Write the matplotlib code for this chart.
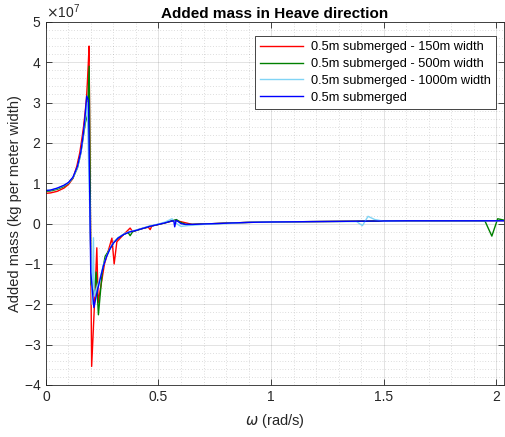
import matplotlib
matplotlib.use("Agg")
import matplotlib.pyplot as plt
from matplotlib.ticker import MultipleLocator, ScalarFormatter

plt.rcParams["font.family"] = ["Liberation Sans", "DejaVu Sans"]
plt.rcParams["mathtext.fontset"] = "dejavusans"

# values in units of 1e7 kg per meter width
w_150 = [0, 0.02, 0.05, 0.08, 0.1, 0.12, 0.137, 0.15, 0.159, 0.167, 0.174, 0.18, 0.184, 0.188, 0.1915,
         0.203, 0.218, 0.226, 0.232, 0.26, 0.293, 0.303, 0.315, 0.34, 0.374, 0.385, 0.42, 0.455, 0.463,
         0.47, 0.5, 0.55, 0.575, 0.59, 0.62, 0.65, 0.7, 0.8, 0.9, 1.0, 1.2, 1.4, 1.6, 1.8, 2.0, 2.04]
a_150 = [0.75, 0.76, 0.80, 0.88, 0.97, 1.12, 1.42, 1.75, 2.08, 2.4, 2.75, 3.1, 3.5, 3.95, 4.4,
         -3.54, -1.7, -0.6, -1.96, -1.0, -0.36, -1.0, -0.45, -0.3, -0.11, -0.2, -0.13, -0.09, -0.15,
         -0.06, -0.02, 0.05, 0.08, 0.06, 0.02, -0.02, -0.01, 0.01, 0.03, 0.04, 0.05, 0.06, 0.07, 0.07, 0.07, 0.07]

w_500 = [0, 0.02, 0.05, 0.08, 0.1, 0.12, 0.14, 0.155, 0.165, 0.175, 0.185, 0.192,
         0.2, 0.214, 0.223, 0.233, 0.25, 0.263, 0.285, 0.30, 0.32, 0.345, 0.365, 0.374, 0.385, 0.43, 0.46,
         0.5, 0.53, 0.555, 0.58, 0.595, 0.62, 0.65, 0.7, 0.8, 0.9, 1.0, 1.2, 1.4, 1.6, 1.8, 1.95, 1.981,
         2.007, 2.04]
a_500 = [0.80, 0.81, 0.85, 0.92, 1.0, 1.13, 1.38, 1.75, 2.12, 2.5, 2.7, 3.9,
         -1.5, -1.76, -1.2, -2.26, -1.2, -0.81, -0.62, -0.48, -0.36, -0.27, -0.22, -0.3, -0.2, -0.12, -0.07,
         -0.02, 0.02, 0.06, 0.1, 0.04, -0.02, -0.02, -0.01, 0.01, 0.03, 0.04, 0.05, 0.06, 0.07, 0.07, 0.07, -0.31,
         0.12, 0.08]

w_1000 = [0, 0.02, 0.05, 0.08, 0.1, 0.12, 0.14, 0.155, 0.165, 0.175, 0.183, 0.205, 0.211, 0.214,
          0.225, 0.24, 0.255, 0.27, 0.285, 0.30, 0.32, 0.345, 0.37, 0.40, 0.43, 0.46, 0.5, 0.53, 0.56,
          0.58, 0.6, 0.63, 0.7, 0.8, 0.9, 1.0, 1.2, 1.38, 1.406, 1.431, 1.461, 1.5, 1.6, 1.8, 2.0, 2.04]
a_1000 = [0.82, 0.83, 0.87, 0.94, 1.01, 1.14, 1.39, 1.74, 2.13, 2.6, 3.0, -2.0, -0.35, -1.8,
          -1.6, -1.36, -1.03, -0.8, -0.61, -0.47, -0.35, -0.26, -0.2, -0.16, -0.11, -0.06, -0.01, 0.04, 0.12,
          0.0, -0.07, -0.05, -0.02, 0.0, 0.03, 0.04, 0.05, 0.05, -0.05, 0.18, 0.1, 0.06, 0.07, 0.07, 0.07, 0.07]

w_sub = [0, 0.02, 0.05, 0.08, 0.1, 0.12, 0.14, 0.155, 0.165, 0.172, 0.178, 0.181, 0.189, 0.199, 0.213,
         0.225, 0.24, 0.255, 0.27, 0.285, 0.30, 0.32, 0.345, 0.37, 0.40, 0.43, 0.46, 0.50, 0.53, 0.555,
         0.568, 0.572, 0.578, 0.585, 0.60, 0.62, 0.65, 0.7, 0.8, 0.9, 1.0, 1.2, 1.4, 1.6, 1.8, 2.0, 2.04]
a_sub = [0.82, 0.83, 0.88, 0.95, 1.02, 1.15, 1.42, 1.78, 2.18, 2.55, 2.95, 3.16, 3.05, -1.2, -2.08,
         -1.75, -1.39, -1.05, -0.81, -0.62, -0.48, -0.36, -0.27, -0.21, -0.17, -0.12, -0.07, -0.02, 0.02, 0.06,
         0.07, -0.08, 0.08, 0.06, 0.0, -0.02, -0.02, -0.01, 0.01, 0.03, 0.04, 0.05, 0.06, 0.07, 0.07, 0.07, 0.07]

labels = ["0.5m submerged - 150m width", "0.5m submerged - 500m width",
          "0.5m submerged - 1000m width", "0.5m submerged"]

scale = 1e7
fig = plt.figure(figsize=(5.05, 4.37), dpi=100)
ax = fig.add_axes([0.091, 0.119, 0.907, 0.831])

ax.plot(w_150, [v * scale for v in a_150], color="red", lw=1.0, label=labels[0])
ax.plot(w_500, [v * scale for v in a_500], color=(0, 0.5, 0), lw=1.0, label=labels[1])
ax.plot(w_1000, [v * scale for v in a_1000], color=(0.5, 0.83, 0.96), lw=1.0, label=labels[2])
ax.plot(w_sub, [v * scale for v in a_sub], color="blue", lw=1.0, label=labels[3])

ax.set_xlim(0, 2.035)
ax.set_ylim(-4e7, 5e7)
ax.xaxis.set_major_locator(MultipleLocator(0.5))
ax.xaxis.set_minor_locator(MultipleLocator(0.1))
ax.yaxis.set_major_locator(MultipleLocator(1e7))
ax.yaxis.set_minor_locator(MultipleLocator(0.2e7))
ax.set_xticks([0, 0.5, 1, 1.5, 2])
ax.set_xticklabels(["0", "0.5", "1", "1.5", "2"])
fmt = ScalarFormatter(useMathText=True)
fmt.set_powerlimits((0, 0))
ax.yaxis.set_major_formatter(fmt)

dark = (0.15, 0.15, 0.15)
ax.grid(True, which="major", color=dark, alpha=0.15, lw=0.6)
ax.grid(True, which="minor", color=dark, alpha=0.3, lw=0.5, ls=(0, (1, 3)))
ax.set_axisbelow(True)
ax.tick_params(which="major", direction="in", top=True, right=True, length=4, width=0.6,
               colors=dark, labelsize=10)
ax.tick_params(which="minor", length=0)
for s in ax.spines.values():
    s.set_color(dark)
    s.set_linewidth(0.6)
ax.yaxis.get_offset_text().set_fontsize(10)
ax.yaxis.get_offset_text().set_color(dark)

ax.set_title("Added mass in Heave direction", fontsize=11, fontweight="bold", pad=3)
ax.set_xlabel(r"$\omega$ (rad/s)", fontsize=10.5, color=dark, labelpad=6)
ax.set_ylabel("Added mass (kg per meter width)", fontsize=10.5, color=dark, labelpad=1)

leg = ax.legend(loc="upper right", bbox_to_anchor=(0.982, 0.961), borderaxespad=0,
                fontsize=9.2, fancybox=False, framealpha=1, edgecolor=dark,
                handlelength=3.4, handletextpad=0.6, labelspacing=0.38, borderpad=0.4)
leg.get_frame().set_linewidth(0.6)

fig.savefig("out.png", dpi=100)
